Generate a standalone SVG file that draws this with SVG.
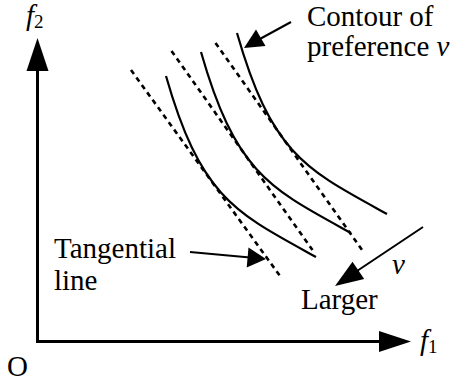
<svg xmlns="http://www.w3.org/2000/svg" width="456" height="388" viewBox="0 0 456 388">
<style>
.ax{fill:none;stroke:#000;stroke-width:3;stroke-linejoin:miter}
.cv{fill:none;stroke:#000;stroke-width:2.2}
.tg{fill:none;stroke:#000;stroke-width:2.6;stroke-dasharray:5 4.2}
.ln{fill:none;stroke:#000;stroke-width:2}
.hd{fill:#000;stroke:none}
.t{font-size:29px;fill:#000}
.m{font-style:italic}
.sub{font-size:19px;font-style:normal}
</style>
<rect width="456" height="388" fill="#fff"/>
<g id="axes">
<path class="ax" d="M37.5,70 V341.5 H380"/>
<polygon class="hd" points="37.5,38 48.5,71 26.5,71"/>
<polygon class="hd" points="411,341.5 379,331 379,352"/>
</g>
<g id="contours">
<path class="cv" d="M166,76 c35,122.5 70,137 150,181"/>
<path class="cv" d="M201,52 c35,122.5 70,137 150,181"/>
<path class="cv" d="M237,33 c35,122.5 70,137 150,181"/>
</g>
<g id="tangents">
<path class="tg" d="M131,70 L280,276"/>
<path class="tg" d="M171.5,51 L312.5,250"/>
<path class="tg" d="M215.5,43 L363.5,252"/>
</g>
<g id="connectors">
<path class="ln" d="M291,22 L258,40"/>
<polygon class="hd" points="244,48 256,29.5 265.5,46"/>
<path class="ln" d="M190,252 L250,257.5"/>
<polygon class="hd" points="266,259 248.5,247.4 246.7,267.4"/>
<path class="ln" d="M423,227 L357,271"/>
<polygon class="hd" points="335,286 352.5,261.7 364.2,279.1"/>
</g>
<g id="labels" font-family="'Liberation Serif', 'DejaVu Serif', serif">
<text class="t" x="26" y="25"><tspan class="m">f</tspan><tspan class="sub" dy="3">2</tspan></text>
<text class="t" x="420" y="350"><tspan class="m">f</tspan><tspan class="sub" dy="3">1</tspan></text>
<text class="t" x="7" y="376">O</text>
<text class="t" x="307" y="26">Contour of</text>
<text class="t" x="307" y="56">preference <tspan class="m">v</tspan></text>
<text class="t" x="54" y="258">Tangential</text>
<text class="t" x="54" y="290">line</text>
<text class="t" x="301" y="309">Larger</text>
<text class="t m" x="392" y="274">v</text>
</g>
</svg>
